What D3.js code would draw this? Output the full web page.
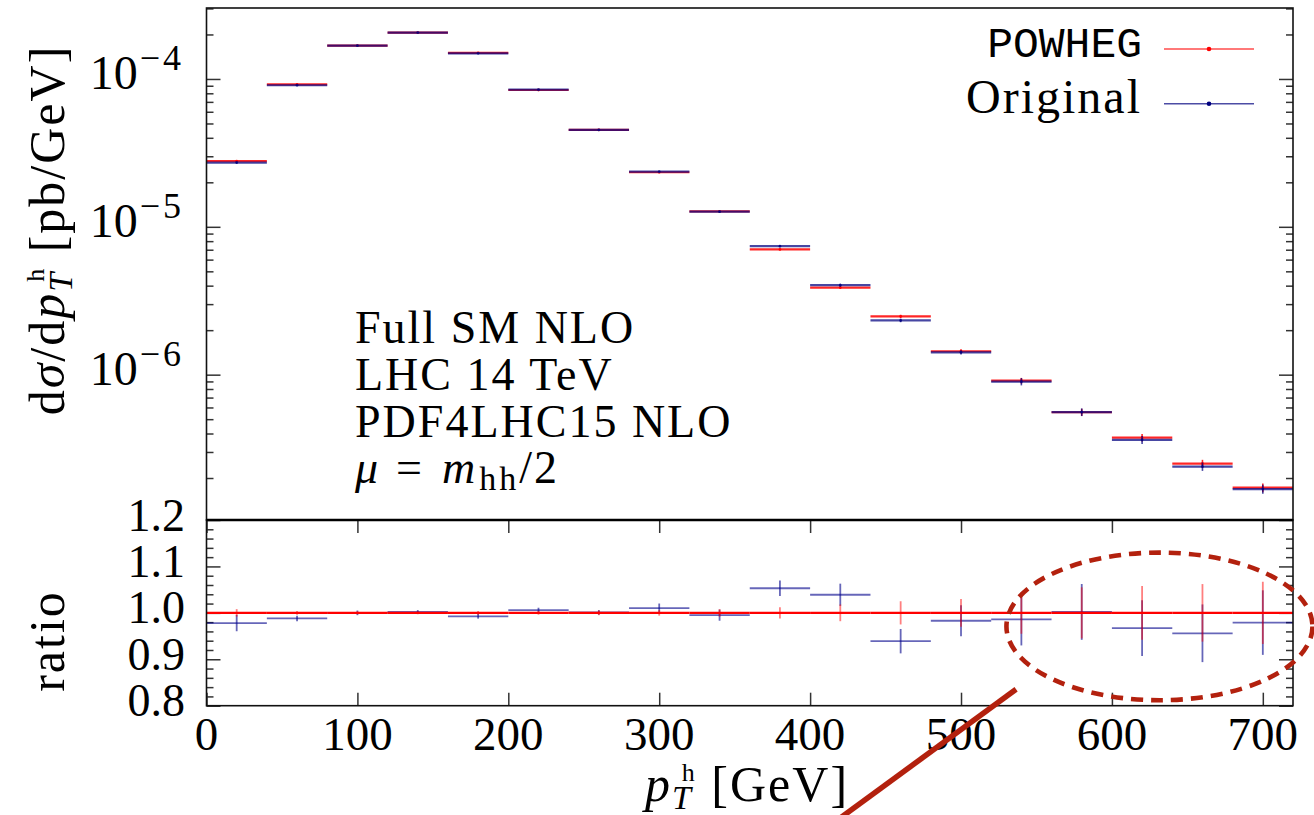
<!DOCTYPE html>
<html>
<head>
<meta charset="utf-8">
<script src="https://cdn.jsdelivr.net/npm/d3@7"></script>
<style>
  html, body { margin: 0; padding: 0; background: #fff; }
  svg { display: block; }
</style>
</head>
<body>
<svg id="chart" width="1314" height="815"></svg>
<script>
// Higgs-pair transverse momentum: POWHEG vs. original NLO implementation
const binEdges = [0, 40, 80, 120, 160, 200, 240, 280, 320, 360, 400, 440, 480, 520, 560, 600, 640, 680, 720];
// dσ/dp_T^h in pb/GeV for the POWHEG sample
const powheg = [2.78e-5, 9.18e-5, 1.68e-4, 2.056e-4, 1.503e-4, 8.42e-5, 4.52e-5, 2.34e-5, 1.272e-5,
                7.03e-6, 3.88e-6, 2.48e-6, 1.44e-6, 9.1e-7, 5.57e-7, 3.75e-7, 2.50e-7, 1.72e-7];
// Original / POWHEG
const ratio = [0.978, 0.988, 1.000, 1.002, 0.9925, 1.006, 1.001, 1.010, 0.995,
               1.053, 1.039, 0.939, 0.983, 0.986, 1.002, 0.967, 0.956, 0.979];
// relative statistical uncertainties
const powhegErr = [0.008, 0.004, 0.003, 0.003, 0.004, 0.004, 0.005, 0.006, 0.008,
                   0.012, 0.018, 0.025, 0.030, 0.045, 0.055, 0.058, 0.062, 0.067];
const originalErr = [0.018, 0.006, 0.005, 0.004, 0.005, 0.005, 0.005, 0.010, 0.012,
                     0.016, 0.023, 0.028, 0.034, 0.057, 0.060, 0.062, 0.065, 0.071];
const xTicks = [0, 100, 200, 300, 400, 500, 600, 700];
const decadeTicks = [1e-6, 1e-5, 1e-4];
const ratioTicks = [0.8, 0.9, 1.0, 1.1, 1.2];
const seriesNames = ["POWHEG", "Original"];
const infoLines = ["Full SM NLO", "LHC 14 TeV", "PDF4LHC15 NLO"];

const SERIF = "'Liberation Serif', 'Times New Roman', serif";
const MONO = "'Liberation Mono', 'DejaVu Sans Mono', monospace";
const RED = "#ff0000";
const BLUE = "#00007f";
const MARK = "#b3210e";

const svg = d3.select("#chart");
svg.append("rect").attr("width", 1314).attr("height", 815).attr("fill", "#fff");

const L = 206.5, R = 1293, T = 8, M = 520, B = 705.7;
const x = d3.scaleLinear([0, 720], [L, R]);
const yTop = d3.scaleLog([1.04e-7, 3.02e-4], [M, T]);
const yRat = d3.scaleLinear([0.8, 1.2], [B, M]);

const bins = powheg.map((p, i) => ({
  lo: binEdges[i], hi: binEdges[i + 1], mid: (binEdges[i] + binEdges[i + 1]) / 2,
  p, o: p * ratio[i], r: ratio[i], pe: powhegErr[i], oe: originalErr[i]
}));

// ---------- tick marks (all pointing inward) ----------
function tickAxis(axisFn, scale, values, size, tx, ty) {
  svg.append("g")
    .attr("transform", `translate(${tx},${ty})`)
    .call(axisFn(scale).tickValues(values).tickSize(size).tickSizeOuter(0).tickFormat(""))
    .call(g => g.select(".domain").remove())
    .call(g => g.selectAll("line").attr("stroke", "#333").attr("stroke-width", 1.5));
}
const logMinor = yTop.ticks().filter(v => Math.abs(Math.log10(v) - Math.round(Math.log10(v))) > 1e-6);
tickAxis(d3.axisLeft, yTop, logMinor, -7, L, 0);
tickAxis(d3.axisLeft, yTop, decadeTicks, -14, L, 0);
tickAxis(d3.axisRight, yTop, logMinor, -7, R, 0);
tickAxis(d3.axisRight, yTop, decadeTicks, -14, R, 0);

const ratMinor = yRat.ticks(20).filter(v => !ratioTicks.some(t => Math.abs(t - v) < 1e-6));
tickAxis(d3.axisLeft, yRat, ratMinor, -7, L, 0);
tickAxis(d3.axisLeft, yRat, ratioTicks, -14, L, 0);
tickAxis(d3.axisRight, yRat, ratMinor, -7, R, 0);
tickAxis(d3.axisRight, yRat, ratioTicks, -14, R, 0);
tickAxis(d3.axisTop, x, xTicks, -13, 0, M);
tickAxis(d3.axisBottom, x, xTicks, -13, 0, B);

// ---------- upper panel: differential cross section ----------
const upperPanel = svg.append("g");
function drawSeries(g, key, errKey, color, opacity) {
  const s = g.append("g").attr("stroke", color).attr("stroke-opacity", opacity).attr("fill", color).attr("fill-opacity", opacity);
  s.selectAll("line.h").data(bins).join("line").attr("class", "h")
    .attr("x1", d => x(d.lo)).attr("x2", d => x(d.hi))
    .attr("y1", d => yTop(d[key])).attr("y2", d => yTop(d[key]))
    .attr("stroke-width", 2.2);
  s.selectAll("line.e").data(bins).join("line").attr("class", "e")
    .attr("x1", d => x(d.mid)).attr("x2", d => x(d.mid))
    .attr("y1", d => yTop(d[key] * (1 - d[errKey]))).attr("y2", d => yTop(d[key] * (1 + d[errKey])))
    .attr("stroke-width", 1.6);
  s.selectAll("circle").data(bins).join("circle")
    .attr("cx", d => x(d.mid)).attr("cy", d => yTop(d[key])).attr("r", 1.4).attr("stroke", "none");
}
drawSeries(upperPanel, "p", "pe", RED, 0.85);
drawSeries(upperPanel, "o", "oe", BLUE, 0.72);

// ---------- ratio panel ----------
const ratioPanel = svg.append("g");
const rb = ratioPanel.append("g").attr("stroke", "#00008b").attr("stroke-opacity", 0.6);
rb.selectAll("line.h").data(bins).join("line").attr("class", "h")
  .attr("x1", d => x(d.lo)).attr("x2", d => x(d.hi))
  .attr("y1", d => yRat(d.r)).attr("y2", d => yRat(d.r)).attr("stroke-width", 1.8);
rb.selectAll("line.e").data(bins).join("line").attr("class", "e")
  .attr("x1", d => x(d.mid)).attr("x2", d => x(d.mid))
  .attr("y1", d => yRat(d.r * (1 - d.oe))).attr("y2", d => yRat(d.r * (1 + d.oe))).attr("stroke-width", 1.8);
const rr = ratioPanel.append("g").attr("stroke", RED);
rr.selectAll("line.e").data(bins).join("line").attr("class", "e")
  .attr("x1", d => x(d.mid)).attr("x2", d => x(d.mid))
  .attr("y1", d => yRat(1 - d.pe)).attr("y2", d => yRat(1 + d.pe))
  .attr("stroke-width", 1.8).attr("stroke-opacity", 0.5);
rr.selectAll("line.h").data(bins).join("line").attr("class", "h")
  .attr("x1", d => x(d.lo)).attr("x2", d => x(d.hi))
  .attr("y1", yRat(1)).attr("y2", yRat(1)).attr("stroke-width", 2.4);

// ---------- frames ----------
svg.append("rect").attr("x", L).attr("y", T).attr("width", R - L).attr("height", M - T)
  .attr("fill", "none").attr("stroke", "#111").attr("stroke-width", 1.6);
svg.append("rect").attr("x", L).attr("y", M).attr("width", R - L).attr("height", B - M)
  .attr("fill", "none").attr("stroke", "#111").attr("stroke-width", 1.6);
svg.append("line").attr("x1", L).attr("x2", R).attr("y1", M).attr("y2", M)
  .attr("stroke", "#000").attr("stroke-width", 2.4);

// ---------- tick labels ----------
const labels = svg.append("g").attr("font-family", SERIF).attr("fill", "#000");
decadeTicks.forEach(v => {
  const t = labels.append("text").attr("x", 184).attr("y", yTop(v) + 10.5).attr("text-anchor", "end");
  t.append("tspan").attr("font-size", 48).text("10");
  t.append("tspan").attr("font-size", 36).attr("dx", 2).attr("dy", -19).attr("letter-spacing", 3)
    .text("\u2212" + Math.round(-Math.log10(v)));
});
ratioTicks.forEach(v => {
  labels.append("text").attr("x", 185).attr("y", yRat(v) + 10.5).attr("text-anchor", "end")
    .attr("font-size", 46).text(d3.format(".1f")(v));
});
xTicks.forEach(v => {
  labels.append("text").attr("x", x(v)).attr("y", 750).attr("text-anchor", "middle")
    .attr("font-size", 47).text(v);
});

// ---------- axis titles ----------
// p_T with a roman "h" superscript stacked over the italic T subscript
function ptSymbol(t) {
  t.append("tspan").attr("font-style", "italic").text("p");
  t.append("tspan").attr("font-style", "italic").attr("font-size", 34).attr("dy", 8).text("T");
  t.append("tspan").attr("font-size", 26).attr("dx", -11).attr("dy", -28).text("h");
}
const yTitle = labels.append("text").attr("transform", "translate(64,230) rotate(-90)")
  .attr("text-anchor", "middle").attr("font-size", 50).attr("letter-spacing", 2);
yTitle.append("tspan").text("d");
yTitle.append("tspan").attr("font-style", "italic").text("σ");
yTitle.append("tspan").text("/d");
ptSymbol(yTitle);
yTitle.append("tspan").attr("dy", 20).text(" [pb/GeV]");

labels.append("text").attr("transform", "translate(64,641) rotate(-90)")
  .attr("text-anchor", "middle").attr("font-size", 50).attr("letter-spacing", 2).text("ratio");

const xTitle = labels.append("text").attr("x", 747).attr("y", 801)
  .attr("text-anchor", "middle").attr("font-size", 50).attr("letter-spacing", 2);
ptSymbol(xTitle);
xTitle.append("tspan").attr("dy", 20).text(" [GeV]");

// ---------- setup description ----------
const info = labels.append("g").attr("font-size", 46).attr("letter-spacing", 2);
infoLines.forEach((s, i) => {
  info.append("text").attr("x", 355).attr("y", 343.3 + i * 46.7).text(s);
});
const mu = info.append("text").attr("x", 355).attr("y", 343.3 + 3 * 46.7);
mu.append("tspan").attr("font-style", "italic").text("μ");
mu.append("tspan").attr("dx", 16).attr("letter-spacing", 6).text("=");
mu.append("tspan").attr("dx", 14).attr("font-style", "italic").attr("letter-spacing", 4).text("m");
mu.append("tspan").attr("font-size", 34).attr("dy", 7).attr("letter-spacing", 3).text("hh");
mu.append("tspan").attr("dy", -7).text("/2");

// ---------- legend ----------
const legend = svg.append("g");
const legendRows = [
  { name: seriesNames[0], color: RED, font: MONO, size: 43, base: 56.7, ly: 49, ls: 0 },
  { name: seriesNames[1], color: BLUE, font: SERIF, size: 48, base: 113.3, ly: 103.7, ls: 2 }
];
legendRows.forEach(r => {
  legend.append("text").attr("x", 1142).attr("y", r.base).attr("text-anchor", "end")
    .attr("font-family", r.font).attr("font-size", r.size).attr("letter-spacing", r.ls).text(r.name);
  legend.append("line").attr("x1", 1164).attr("x2", 1254).attr("y1", r.ly).attr("y2", r.ly)
    .attr("stroke", r.color).attr("stroke-opacity", 0.7).attr("stroke-width", 1.6);
  legend.append("circle").attr("cx", 1209).attr("cy", r.ly).attr("r", 2.3).attr("fill", r.color);
});

// ---------- highlight of the high-p_T tail ----------
const hl = svg.append("g").attr("stroke", MARK).attr("fill", "none");
hl.append("ellipse")
  .attr("cx", x(631.5)).attr("cy", yRat(0.9708))
  .attr("rx", x(631.5 + 101.4) - x(631.5)).attr("ry", yRat(0.8) - yRat(0.8 + 0.159))
  .attr("stroke-width", 4.6).attr("stroke-dasharray", "12,8");
hl.append("line")
  .attr("x1", x(536.5)).attr("y1", yRat(0.8353))
  .attr("x2", x(419.5)).attr("y2", yRat(0.557))
  .attr("stroke-width", 5.5);
</script>
</body>
</html>
